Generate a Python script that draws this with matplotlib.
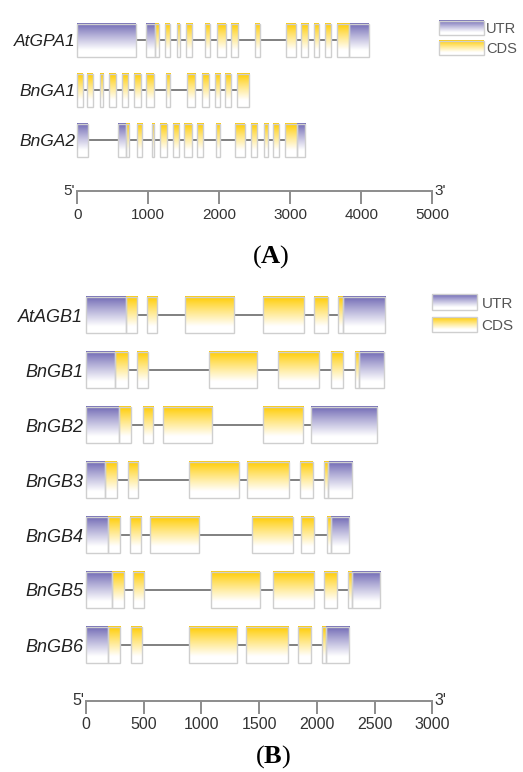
import numpy as np
import matplotlib
matplotlib.use("Agg")
import matplotlib.pyplot as plt
from matplotlib.patches import Rectangle
from matplotlib.colors import to_rgb

plt.rcParams['font.family'] = ['Liberation Sans', 'DejaVu Sans']
plt.rcParams['mathtext.fontset'] = 'custom'
plt.rcParams['mathtext.rm'] = 'Liberation Serif'
plt.rcParams['mathtext.bf'] = 'Liberation Serif:bold'

W, H = 523, 772

# ---------------- Panel A data ----------------
a_genes = ["AtGPA1", "BnGA1", "BnGA2"]
a_lengths = [4120, 2418, 3221]
a_utr = [
    [(0, 827), (963, 1094), (3827, 4108)],
    [],
    [(0, 146), (578, 686), (3090, 3207)],
]
a_cds = [
    [(1094, 1146), (1240, 1306), (1409, 1447), (1531, 1620), (1799, 1869),
     (1972, 2090), (2165, 2268), (2507, 2569), (2939, 3076), (3151, 3254),
     (3338, 3404), (3493, 3569), (3653, 3827)],
    [(0, 76), (141, 217), (320, 366), (451, 545), (625, 718), (803, 897),
     (972, 1076), (1245, 1306), (1541, 1658), (1761, 1855), (1939, 2010),
     (2080, 2160), (2245, 2418)],
    [(686, 732), (836, 916), (1048, 1085), (1165, 1259), (1343, 1432),
     (1507, 1611), (1690, 1775), (1953, 2010), (2225, 2362), (2442, 2535),
     (2630, 2690), (2761, 2841), (2925, 3090)],
]
a_ticks = [0, 1000, 2000, 3000, 4000, 5000]

# ---------------- Panel B data ----------------
b_genes = ["AtAGB1", "BnGB1", "BnGB2", "BnGB3", "BnGB4", "BnGB5", "BnGB6"]
b_lengths = [2599, 2590, 2518, 2316, 2290, 2556, 2287]
b_utr = [
    [(0, 346), (2223, 2590)],
    [(0, 251), (2365, 2581)],
    [(0, 286), (1946, 2518)],
    [(0, 167), (2099, 2307)],
    [(0, 188), (2122, 2281)],
    [(0, 222), (2301, 2547)],
    [(0, 188), (2076, 2278)],
]
b_cds = [
    [(346, 445), (525, 618), (858, 1285), (1530, 1888), (1978, 2094), (2186, 2223)],
    [(251, 361), (445, 534), (1063, 1484), (1660, 2018), (2120, 2229), (2330, 2365)],
    [(286, 387), (491, 583), (664, 1089), (1530, 1883)],
    [(167, 266), (364, 453), (895, 1323), (1392, 1756), (1854, 1964), (2062, 2099)],
    [(188, 292), (381, 479), (552, 981), (1435, 1790), (1865, 1975), (2088, 2122)],
    [(222, 329), (404, 505), (1083, 1507), (1617, 1978), (2059, 2177), (2272, 2301)],
    [(188, 292), (393, 488), (889, 1311), (1383, 1750), (1839, 1952), (2042, 2076)],
]
b_ticks = [0, 500, 1000, 1500, 2000, 2500, 3000]

legend_labels = ["UTR", "CDS"]

UTR_COLOR = "#6f68b4"
CDS_COLOR = "#ffcc00"
EDGE = "#cfcfcf"
LINE = "#808080"


def grad_img(color):
    c = np.array(to_rgb(color))
    t = np.linspace(0, 1, 96)[:, None]
    m = np.clip((t - 0.02) / 0.8, 0, 1) ** 0.9
    img = c[None, :] * (1 - m) + m
    return img[:, None, :]


def grad_box(ax, x0, x1, ylo, yhi, color, z=2):
    im = ax.imshow(grad_img(color), extent=[x0, x1, ylo, yhi], origin='upper',
                   aspect='auto', interpolation='bilinear', zorder=z)
    im.set_clip_on(False)
    ax.add_patch(Rectangle((x0, ylo), x1 - x0, yhi - ylo, fill=False,
                           ec=EDGE, lw=1.0, zorder=z + 1, clip_on=False))


fig = plt.figure(figsize=(W / 100, H / 100), dpi=100)


def px_axes(x0, y0, x1, y1):
    return fig.add_axes([x0 / W, 1 - y1 / H, (x1 - x0) / W, (y1 - y0) / H])


def gene_panel(x0px, x1px, y0px, y1px, xmax, genes, lengths, utrs, cdss,
               half, fs, lab_off):
    ax = px_axes(x0px, y0px, x1px, y1px)
    n = len(genes)
    for i in range(n):
        y = -i
        ax.hlines(y, 0, lengths[i], color=LINE, lw=1.4, zorder=1, clip_on=False)
        for (s, e) in utrs[i]:
            grad_box(ax, s, e, y - half, y + half, UTR_COLOR)
        for (s, e) in cdss[i]:
            grad_box(ax, s, e, y - half, y + half, CDS_COLOR)
        ax.annotate(genes[i], xy=(0, y), xytext=(lab_off, 0),
                    textcoords='offset points', ha='right', va='center_baseline',
                    fontsize=fs, style='italic', color='#222222')
    ax.set_xlim(0, xmax)
    ax.set_ylim(-(n - 0.5), 0.5)
    ax.axis('off')
    return ax


def scale_bar(x0px, x1px, ypx, xmax, ticks, fs):
    ax = px_axes(x0px, ypx, x1px, ypx + 0.5)
    ax.set_facecolor('none')
    for s in ['top', 'left', 'right']:
        ax.spines[s].set_visible(False)
    ax.spines['bottom'].set_color('#8c8c8c')
    ax.spines['bottom'].set_linewidth(1.4)
    ax.set_xlim(0, xmax)
    ax.set_yticks([])
    ax.set_xticks(ticks)
    ax.set_xticklabels([str(t) for t in ticks])
    ax.tick_params(axis='x', direction='out', length=9, width=1.4,
                   color='#8c8c8c', labelsize=fs, labelcolor='#333333', pad=3)
    ax.annotate("5'", xy=(0, 0), xycoords=('data', 'axes fraction'),
                xytext=(-1.5, -3), textcoords='offset points', ha='right',
                va='baseline', fontsize=fs, color='#333333')
    ax.annotate("3'", xy=(xmax, 0), xycoords=('data', 'axes fraction'),
                xytext=(1.5, -3), textcoords='offset points', ha='left',
                va='baseline', fontsize=fs, color='#333333')
    return ax


def legend_panel(bx0, bx1, rows, tx, fs):
    ax = px_axes(420, rows[0][0] - 5, 523, rows[1][1] + 5)
    ax.set_xlim(420, 523)
    ax.set_ylim(-(rows[1][1] + 5), -(rows[0][0] - 5))
    ax.axis('off')
    for (yt, yb), col, lab in zip(rows, [UTR_COLOR, CDS_COLOR], legend_labels):
        grad_box(ax, bx0, bx1, -yb, -yt, col)
        ax.text(tx, -(yt + yb) / 2, lab, ha='left', va='center_baseline',
                fontsize=fs, color='#555555')
    return ax


# Panel A
gene_panel(77.3, 432.3, 15, 165, 5000, a_genes, a_lengths, a_utr, a_cds,
           0.33, 12.5, -1)
scale_bar(77.3, 432.3, 190.7, 5000, a_ticks, 11)
legend_panel(439.3, 484.3, [(20.7, 35), (40.7, 55)], 486, 10.5)
fig.text(271 / W, 1 - 257 / H, r"($\mathbf{A}$)", ha='center', va='center',
         fontsize=19, family='Liberation Serif')

# Panel B
gene_panel(86, 432.3, 287.5, 672.5, 3000, b_genes, b_lengths, b_utr, b_cds,
           0.336, 13, -2)
scale_bar(86, 432.3, 700, 3000, b_ticks, 11.5)
legend_panel(432.3, 477.3, [(294.3, 310), (316.7, 331.7)], 481.5, 11)
fig.text(273 / W, 1 - 757 / H, r"($\mathbf{B}$)", ha='center', va='center',
         fontsize=19, family='Liberation Serif')

fig.savefig("out.png", dpi=100)
